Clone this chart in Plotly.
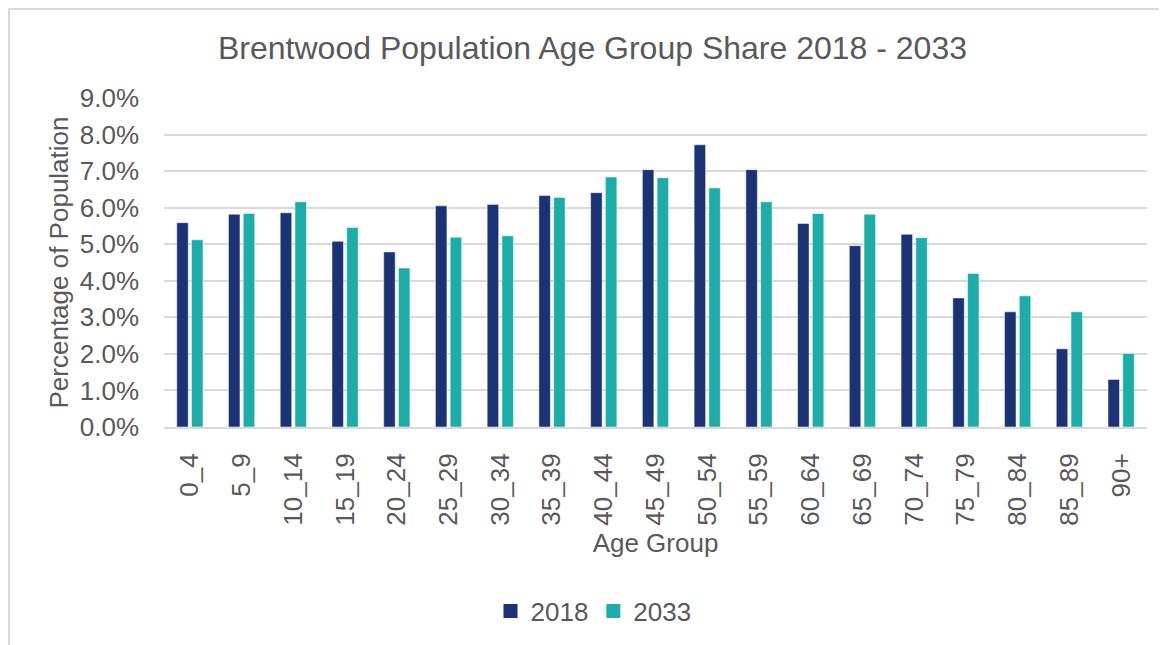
import plotly.graph_objects as go

age_groups = ["0_4", "5_9", "10_14", "15_19", "20_24", "25_29", "30_34", "35_39",
              "40_44", "45_49", "50_54", "55_59", "60_64", "65_69", "70_74",
              "75_79", "80_84", "85_89", "90+"]
share_2018 = [5.59, 5.82, 5.86, 5.08, 4.79, 6.05, 6.09, 6.33, 6.41, 7.04,
              7.72, 7.04, 5.57, 4.96, 5.27, 3.53, 3.15, 2.14, 1.30]
share_2033 = [5.12, 5.84, 6.16, 5.46, 4.35, 5.19, 5.23, 6.28, 6.84, 6.82,
              6.54, 6.16, 5.84, 5.82, 5.18, 4.20, 3.59, 3.15, 2.01]
y_ticks = [0, 1, 2, 3, 4, 5, 6, 7, 8, 9]
series_names = ["2018", "2033"]
series_colors = ["#1b3275", "#1dada8"]

OFF = 8  # page body margin
W, H = 1167 - OFF, 645 - OFF
L, R, T, B = 164 - OFF, 1147 - OFF, 98 - OFF, 427 - OFF
FONT = "Liberation Sans, Arial, sans-serif"
TXT = "#595959"
GRID = "#d9d9d9"

fig = go.Figure()
for name, vals, col in zip(series_names, [share_2018, share_2033], series_colors):
    fig.add_trace(go.Bar(name=name, x=age_groups, y=[v / 100 for v in vals],
                         showlegend=False,
                         marker=dict(color=col, line=dict(color="rgba(255,255,255,0.5)", width=1))))
# legend entries with larger square swatches
for name, col in zip(series_names, series_colors):
    fig.add_trace(go.Scatter(name=name, x=[None], y=[None], mode="markers",
                             marker=dict(symbol="square", size=14, color=col),
                             showlegend=True))

pw, ph = R - L, B - T
def px2paper_x(x):
    return (x - L) / pw
def px2paper_y(y):
    return (B - y) / ph

fig.add_shape(type="rect", xref="paper", yref="paper",
              x0=px2paper_x(1), x1=px2paper_x(W + 20), y0=px2paper_y(H + 20), y1=px2paper_y(1),
              line=dict(color=GRID, width=2), fillcolor="rgba(0,0,0,0)", layer="below")

fig.update_layout(
    width=W, height=H,
    margin=dict(l=L, r=W - R, t=T, b=H - B),
    paper_bgcolor="white", plot_bgcolor="white",
    font=dict(family=FONT, color=TXT, size=26),
    title=dict(text="Brentwood Population Age Group Share 2018 - 2033",
               font=dict(size=32, color=TXT, family=FONT),
               x=(592.5 - OFF) / W, xref="container", xanchor="center",
               y=1 - (48 - OFF) / H, yref="container", yanchor="middle"),
    barmode="group", bargap=0.43, bargroupgap=0.22,
    showlegend=True,
    legend=dict(orientation="h", xref="container", yref="container",
                x=(593.5 - OFF) / W, xanchor="center", y=1 - (611 - OFF) / H, yanchor="middle",
                font=dict(size=26, color=TXT), itemwidth=30),
    xaxis=dict(type="category", tickangle=-90, showgrid=False,
               showline=True, linecolor=GRID, linewidth=2,
               ticks="", tickfont=dict(size=26, color=TXT),
               ticklabelstandoff=14,
               title=dict(text="Age Group", font=dict(size=26, color=TXT), standoff=9)),
    yaxis=dict(range=[0, 0.09], tickvals=[v / 100 for v in y_ticks],
               tickformat=".1%", showgrid=True, gridcolor=GRID, gridwidth=2,
               zeroline=False, showline=False, ticks="",
               tickfont=dict(size=26, color=TXT), ticklabelstandoff=24,
               title=dict(text="Percentage of Population", font=dict(size=26, color=TXT), standoff=3)),
)

fig.write_html("out.html")
